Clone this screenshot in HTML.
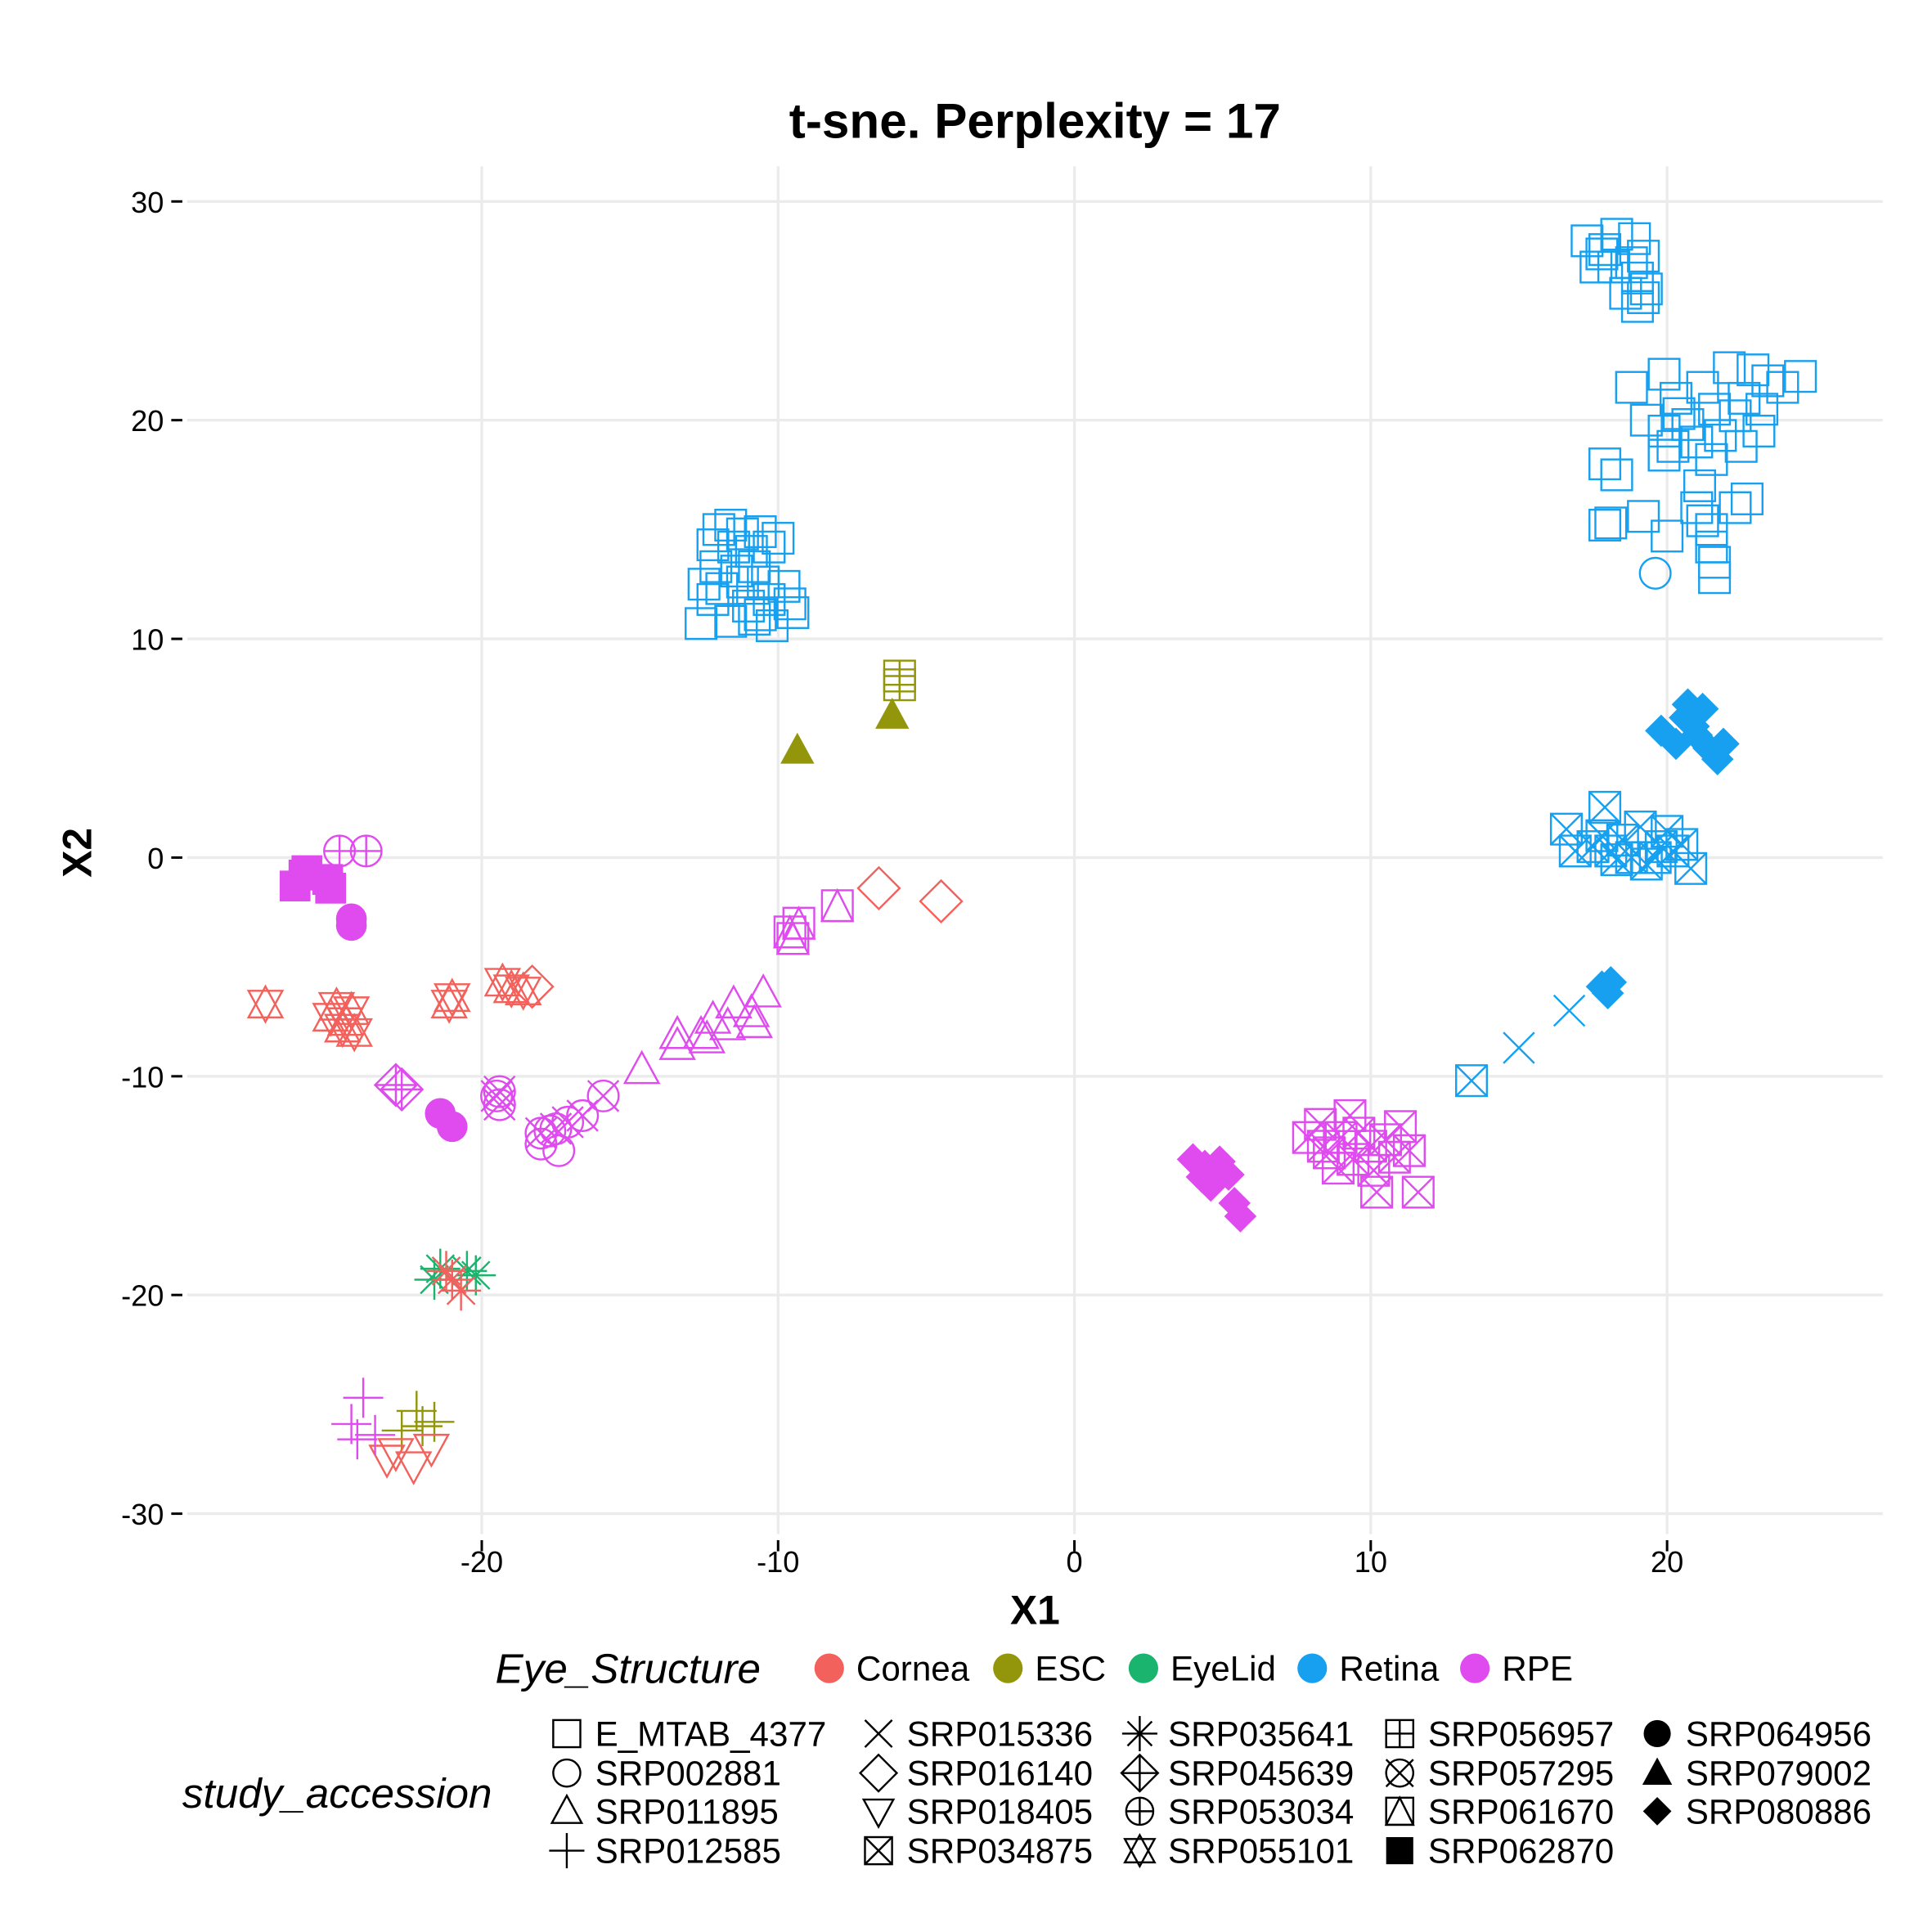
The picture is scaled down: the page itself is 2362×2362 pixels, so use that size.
<!DOCTYPE html>
<html><head><meta charset="utf-8"><style>
html,body{margin:0;padding:0;background:#fff}
svg{display:block}
text{font-family:"Liberation Sans",sans-serif}
</style></head><body>
<svg id="chart" width="2362" height="2362" viewBox="0 0 1568 1568" xmlns="http://www.w3.org/2000/svg">
<rect width="1568" height="1568" fill="#fff"/>
<text x="840" y="112" text-anchor="middle" font-size="40" font-weight="bold">t-sne. Perplexity = 17</text>
<g id="grid"></g>
<g id="marks"></g>
<g id="axes"></g>
<text x="840" y="1318" text-anchor="middle" font-size="33" font-weight="bold">X1</text>
<text transform="translate(74,692) rotate(-90)" text-anchor="middle" font-size="33" font-weight="bold">X2</text>
<g id="legend"></g>
</svg>
<script>
const xTicks=[-20,-10,0,10,20];
const yTicks=[30,20,10,0,-10,-20,-30];
const colorNames=["Cornea","ESC","EyeLid","Retina","RPE"];
const colorValues=["#F2615B","#93960A","#1AB46E","#17A0EF","#DF4BEE"];
const shapeNames=["E_MTAB_4377","SRP002881","SRP011895","SRP012585","SRP015336","SRP016140","SRP018405","SRP034875","SRP035641","SRP045639","SRP053034","SRP055101","SRP056957","SRP057295","SRP061670","SRP062870","SRP064956","SRP079002","SRP080886"];
const shapeKinds=["sq","circ","tri","plus","x","dia","tridown","sqx","ast","diaplus","circplus","star","sqplus","circx","sqtri","fsq","fcirc","ftri","fdia"];

const retinaSquaresTop=[[17.3,28.2],[17.8,27.6],[18.3,28.5],[18.9,28.3],[17.6,27.0],[18.2,27.0],[18.8,27.2],[19.2,27.5],[19.0,26.5],[18.6,25.8],[19.2,25.6],[19.0,25.2],[19.3,26.0],[17.9,27.8]];
const retinaSquaresRight=[[19.9,22.1],[18.8,21.5],[20.3,21.0],[21.2,21.5],[22.1,22.4],[22.9,22.3],[23.4,21.8],[24.5,22.0],[23.9,21.5],[22.6,21.0],[22.3,20.2],[23.2,20.5],[20.4,20.3],[21.6,20.5],[19.3,20.0],[19.9,19.5],[20.7,19.8],[21.0,19.0],[21.8,19.3],[21.5,18.2],[22.5,18.8],[23.1,19.5],[20.2,18.8],[19.9,18.4],[17.9,18.0],[18.3,17.5],[21.1,17.0],[21.0,16.0],[19.2,15.6],[20.0,14.7],[17.9,15.2],[18.1,15.3],[21.2,15.4],[21.5,15.0],[22.3,16.0],[22.7,16.4],[21.5,14.2],[21.6,13.5],[21.6,12.8]];
const retinaSquaresMid=[[-12.0,15.0],[-11.6,15.2],[-11.2,14.8],[-10.6,14.9],[-10.0,14.6],[-12.2,14.3],[-11.5,14.2],[-10.9,14.0],[-10.3,14.2],[-12.1,13.3],[-11.4,13.1],[-10.8,13.3],[-12.5,12.5],[-11.9,12.3],[-11.2,12.6],[-10.5,12.6],[-9.8,12.4],[-12.2,11.8],[-11.0,11.5],[-10.3,11.8],[-9.6,11.6],[-12.6,10.7],[-11.6,10.8],[-10.8,10.9],[-10.2,10.6],[-10.6,11.1],[-9.5,11.2]];
const retinaCircles=[[19.6,13.0]];
const retinaDiamonds=[[19.8,5.8],[20.3,5.2],[20.6,6.4],[20.7,7.0],[21.2,6.8],[21.0,5.6],[21.4,5.0],[21.9,5.2],[21.7,4.5],[20.9,6.0],[17.8,-5.9],[18.0,-6.2],[18.1,-5.7]];
const retinaBoxX=[[16.6,1.3],[16.9,0.3],[17.9,2.3],[17.8,1.0],[18.1,0.3],[18.5,0.8],[18.8,0],[19.1,1.4],[19.3,-0.3],[19.8,0.5],[20.0,1.2],[20.2,0.3],[20.5,0.6],[20.8,-0.5],[17.5,0.5],[19.6,0],[18.3,-0.1],[13.4,-10.2]];
const retinaCross=[[15.0,-8.7],[16.7,-7.0]];
const escSqPlus=[[-5.9,8.3],[-5.9,7.9]];
const escTriangles=[[-9.35,4.9],[-6.15,6.5]];
const escPlus=[[-22.2,-25.3],[-22.0,-26.0],[-22.7,-26.2],[-21.6,-25.8]];
const eyelidAst=[[-21.4,-18.8],[-20.5,-18.9],[-20.2,-19.1],[-21.6,-19.3]];
const corneaAst=[[-21.2,-18.9],[-20.7,-19.8],[-21.0,-19.3]];
const corneaTriDown=[[-23.2,-27.5],[-22.3,-27.8],[-21.7,-27.0],[-22.9,-27.2]];
const corneaStars=[[-27.3,-6.7],[-24.9,-6.8],[-24.4,-7.0],[-24.7,-7.8],[-24.3,-8.0],[-25.1,-7.3],[-24.6,-7.5],[-21.0,-6.4],[-21.1,-6.7],[-19.0,-6.0],[-18.6,-6.1],[-19.3,-5.7]];
const corneaDiamonds=[[-18.3,-5.9],[-6.6,-1.4],[-4.5,-2.0]];
const rpePlus=[[-24.0,-24.7],[-24.4,-25.9],[-23.6,-26.4],[-24.2,-26.6]];
const rpeFilledSq=[[-26.3,-1.3],[-26.0,-0.8],[-25.2,-1.0],[-25.1,-1.4],[-25.9,-0.6]];
const rpeCircPlus=[[-24.8,0.3],[-23.9,0.3]];
const rpeFilledCirc=[[-24.4,-2.8],[-24.4,-3.1],[-21.4,-11.7],[-21.0,-12.3]];
const rpeDiaPlus=[[-22.9,-10.4],[-22.7,-10.6]];
const rpeCircX=[[-19.4,-10.7],[-19.4,-11.3],[-19.5,-10.9],[-18.0,-12.6],[-17.5,-12.4],[-17.1,-12.1],[-16.6,-11.8],[-15.9,-10.9]];
const rpeCircles=[[-18.0,-13.1],[-17.4,-13.4],[-17.7,-12.5]];
const rpeTriangles=[[-14.6,-9.7],[-13.4,-8.1],[-13.4,-8.6],[-12.6,-8.1],[-12.2,-7.4],[-11.5,-6.7],[-10.5,-6.2],[-10.8,-7.6],[-12.4,-8.3],[-10.9,-7.1],[-11.7,-7.7]];
const rpeSqTri=[[-9.6,-3.4],[-9.3,-3.0],[-8.0,-2.2],[-9.5,-3.7]];
const rpeDiamonds=[[4.0,-13.8],[4.3,-14.6],[4.9,-13.9],[5.2,-14.5],[4.6,-15.0],[5.4,-15.8],[5.6,-16.4],[4.4,-14.1]];
const rpeBoxX=[[7.9,-12.8],[8.3,-12.2],[8.6,-13.5],[9.0,-12.8],[9.3,-11.8],[9.6,-12.6],[10.0,-13.2],[10.5,-12.9],[11.0,-12.3],[11.3,-13.4],[10.1,-14.3],[10.2,-15.3],[11.6,-15.3],[8.9,-14.2],[9.4,-13.8],[10.8,-13.7],[8.4,-13.2]];

const groups=[
 [retinaSquaresTop,3,"sq"],[retinaSquaresRight,3,"sq"],[retinaSquaresMid,3,"sq"],[retinaCircles,3,"circ"],
 [retinaDiamonds,3,"fdia"],[retinaBoxX,3,"sqx"],[retinaCross,3,"x"],
 [escSqPlus,1,"sqplus"],[escTriangles,1,"ftri"],[escPlus,1,"plus"],
 [eyelidAst,2,"ast"],[corneaAst,0,"ast"],[corneaTriDown,0,"tridown"],[corneaStars,0,"star"],[corneaDiamonds,0,"dia"],
 [rpePlus,4,"plus"],[rpeFilledSq,4,"fsq"],[rpeCircPlus,4,"circplus"],[rpeFilledCirc,4,"fcirc"],[rpeDiaPlus,4,"diaplus"],
 [rpeCircX,4,"circx"],[rpeCircles,4,"circ"],[rpeTriangles,4,"tri"],[rpeSqTri,4,"sqtri"],[rpeDiamonds,4,"fdia"],[rpeBoxX,4,"sqx"]
];

const NS="http://www.w3.org/2000/svg";
const PX0=872,PXU=24.05,PY0=696,PYU=17.75;
function sx(v){return PX0+v*PXU;}
function sy(v){return PY0-v*PYU;}
const L={x0:152,x1:1528,y0:135,y1:1245};
function mk(tag,attrs,parent){const e=document.createElementNS(NS,tag);for(const k in attrs)e.setAttribute(k,attrs[k]);parent.appendChild(e);return e;}

const grid=document.getElementById('grid');
xTicks.forEach(t=>{const l=mk('line',{x1:sx(t),x2:sx(t),y1:L.y0,y2:L.y1,stroke:'#ebebeb','stroke-width':2.2},grid);

});
yTicks.forEach(t=>{const l=mk('line',{x1:L.x0,x2:L.x1,y1:sy(t),y2:sy(t),stroke:'#ebebeb','stroke-width':2.2},grid);

});
const axes=document.getElementById('axes');
xTicks.forEach(t=>{mk('line',{x1:sx(t),x2:sx(t),y1:1250,y2:1259,stroke:'#000','stroke-width':2},axes);
const tx=mk('text',{x:sx(t),y:1276,'text-anchor':'middle','font-size':24},axes);tx.textContent=t;

});
yTicks.forEach(t=>{mk('line',{x1:139,x2:148,y1:sy(t),y2:sy(t),stroke:'#000','stroke-width':2},axes);
const tx=mk('text',{x:133,y:sy(t)+9,'text-anchor':'end','font-size':24},axes);tx.textContent=t;

});

function shape(kind,cx,cy,col,parent,r){
 r=r||12.5;const g=mk('g',{},parent);const sw=1.6;
 const st={fill:'none',stroke:col,'stroke-width':sw};
 const tri=(dir)=>{const h=r*1.15;return dir>0?`${cx},${cy-h} ${cx-r*1.1},${cy+h*0.75} ${cx+r*1.1},${cy+h*0.75}`:`${cx},${cy+h} ${cx-r*1.1},${cy-h*0.75} ${cx+r*1.1},${cy-h*0.75}`;};
 const sq=()=>mk('rect',Object.assign({x:cx-r,y:cy-r,width:2*r,height:2*r},st),g);
 const ci=()=>mk('circle',Object.assign({cx:cx,cy:cy,r:r},st),g);
 const pl=(k)=>{k=k||r*1.3;mk('line',Object.assign({x1:cx-k,x2:cx+k,y1:cy,y2:cy},st),g);mk('line',Object.assign({x1:cx,x2:cx,y1:cy-k,y2:cy+k},st),g);};
 const xx=(k)=>{k=k||r;mk('line',Object.assign({x1:cx-k,x2:cx+k,y1:cy-k,y2:cy+k},st),g);mk('line',Object.assign({x1:cx-k,x2:cx+k,y1:cy+k,y2:cy-k},st),g);};
 const di=()=>mk('polygon',Object.assign({points:`${cx},${cy-r*1.35} ${cx+r*1.35},${cy} ${cx},${cy+r*1.35} ${cx-r*1.35},${cy}`},st),g);
 const fd=r*1.05;
 switch(kind){
  case 'sq':sq();break;
  case 'circ':ci();break;
  case 'tri':mk('polygon',Object.assign({points:tri(1)},st),g);break;
  case 'tridown':mk('polygon',Object.assign({points:tri(-1)},st),g);break;
  case 'plus':pl();break;
  case 'x':xx();break;
  case 'dia':di();break;
  case 'sqx':sq();xx();break;
  case 'ast':pl();xx(r*0.9);break;
  case 'diaplus':di();pl(r*1.35);break;
  case 'circplus':ci();pl(r);break;
  case 'circx':ci();xx(r);break;
  case 'star':mk('polygon',Object.assign({points:tri(1)},st),g);mk('polygon',Object.assign({points:tri(-1)},st),g);break;
  case 'sqplus':sq();pl(r);break;
  case 'sqtri':sq();mk('polygon',Object.assign({points:`${cx},${cy-r} ${cx-r},${cy+r} ${cx+r},${cy+r}`},st),g);break;
  case 'fsq':mk('rect',{x:cx-r,y:cy-r,width:2*r,height:2*r,fill:col},g);break;
  case 'fcirc':mk('circle',{cx:cx,cy:cy,r:r,fill:col},g);break;
  case 'ftri':mk('polygon',{points:tri(1),fill:col},g);break;
  case 'fdia':mk('polygon',{points:`${cx},${cy-fd} ${cx+fd},${cy} ${cx},${cy+fd} ${cx-fd},${cy}`,fill:col},g);break;
 }
 return g;
}
const marks=document.getElementById('marks');
groups.forEach(gr=>{gr[0].forEach(p=>{const g=shape(gr[2],sx(p[0]),sy(p[1]),colorValues[gr[1]],marks);

});});

const leg=document.getElementById('legend');
let t=mk('text',{x:402,y:1366,'font-size':34,'font-style':'italic'},leg);t.textContent='Eye_Structure';


const dotX=[673,818,928,1065,1197];
colorNames.forEach((n,i)=>{const g=mk('g',{},leg);


mk('circle',{cx:dotX[i],cy:1354,r:12,fill:colorValues[i]},g);
const tx=mk('text',{x:dotX[i]+22,y:1364,'font-size':28},g);tx.textContent=n;});
t=mk('text',{x:148,y:1467,'font-size':34,'font-style':'italic'},leg);t.textContent='study_accession';


const colX=[460,713,925,1136,1345];const rowY=[1407,1439,1470,1502];
shapeNames.forEach((n,i)=>{const c=Math.floor(i/4),r=i%4;const g=mk('g',{},leg);


shape(shapeKinds[i],colX[c],rowY[r],'#000',g,11);
const tx=mk('text',{x:colX[c]+23,y:rowY[r]+10,'font-size':28},g);tx.textContent=n;});
</script>
</body></html>
